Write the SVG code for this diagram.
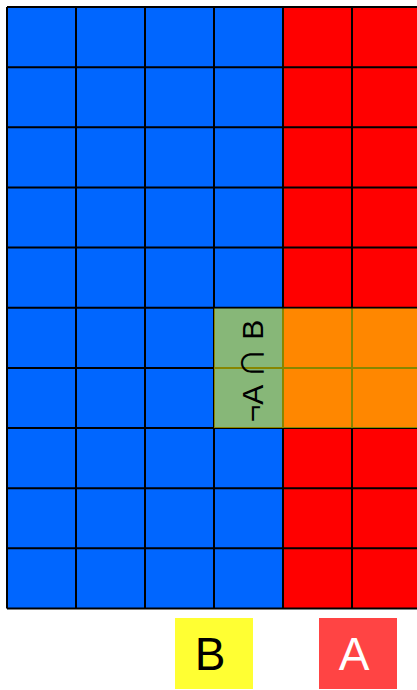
<svg xmlns="http://www.w3.org/2000/svg" width="417" height="690" viewBox="0 0 417 690">
<style>
.b{fill:#0066ff}
.r{fill:#ff0000}
.g{stroke:#000;stroke-width:2;fill:none}
.t{font-family:"Liberation Sans",Arial,sans-serif;text-anchor:middle}
.c{font-family:"Noto Sans CJK SC",sans-serif}
</style>
<rect width="417" height="690" fill="#fff"/>
<g id="regionB">
<rect class="b" x="7" y="7" width="276" height="601.5"/>
</g>
<g id="regionA">
<rect class="r" x="283" y="7" width="140" height="601.5"/>
</g>
<g id="grid" class="g">
<path d="M7 7V608.5M76 7V608.5M145 7V608.5M214 7V608.5M283 7V608.5M352 7V608.5M421 7V608.5"/>
<path d="M7 7H421M7 67.15H421M7 127.3H421M7 187.45H421M7 247.6H421M7 307.75H421M7 367.9H421M7 428.05H421M7 488.2H421M7 548.35H421M7 608.5H421"/>
</g>
<g id="intersection">
<rect x="214" y="308.5" width="210" height="119.5" fill="#ffff00" fill-opacity="0.53"/>
<text class="t" transform="translate(263,371) rotate(-90)" font-size="30" fill="#000">¬A <tspan class="c">∩</tspan> B</text>
</g>
<g id="labelB">
<rect x="175" y="618" width="78" height="71" fill="#ffff33"/>
<text class="t" x="210" y="670" font-size="46" fill="#000">B</text>
</g>
<g id="labelA">
<rect x="319" y="618" width="78" height="71" fill="#ff4444"/>
<text class="t" x="354" y="670" font-size="46" fill="#fff">A</text>
</g>
</svg>
